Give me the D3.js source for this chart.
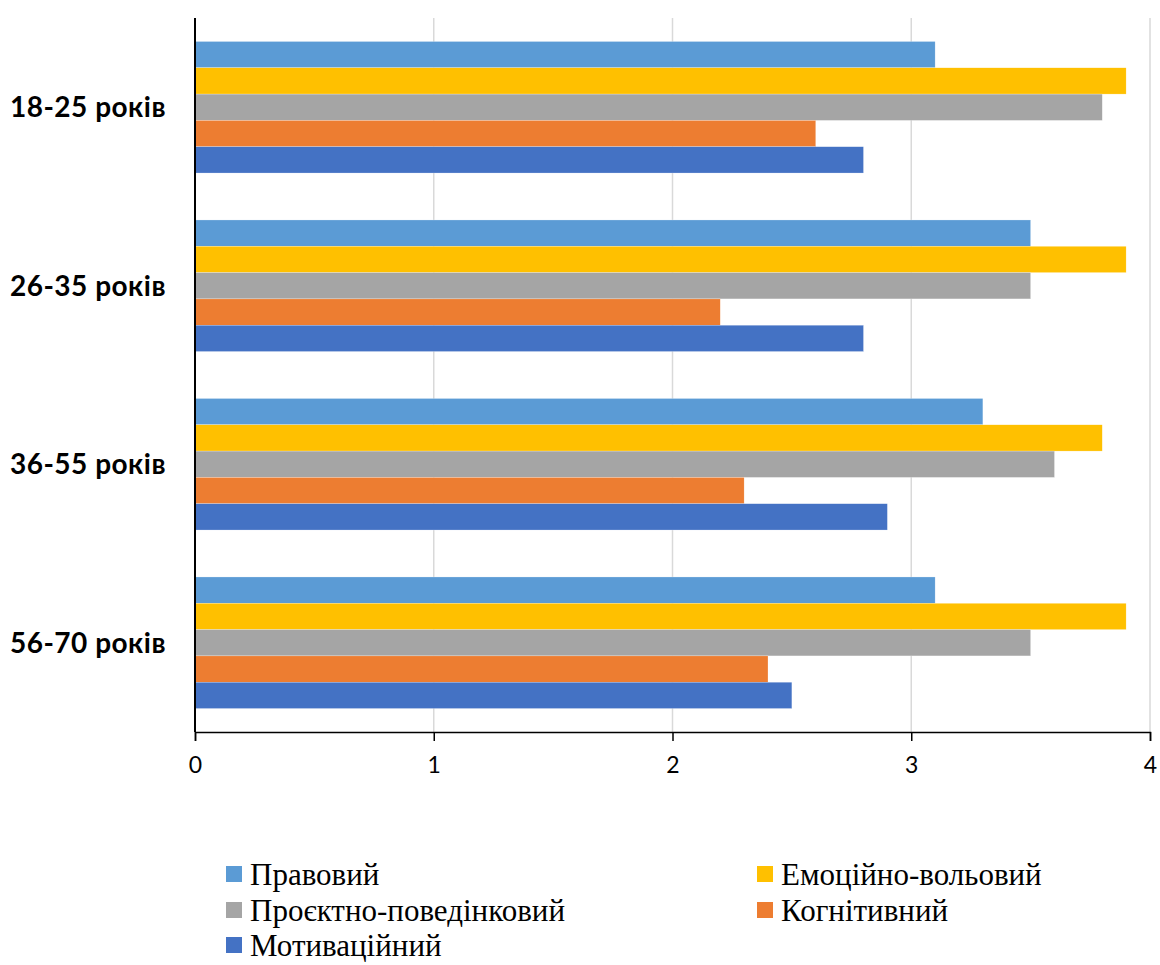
<!DOCTYPE html>
<html>
<head>
<meta charset="utf-8">
<script src="https://cdn.jsdelivr.net/npm/d3@7"></script>
<style>
  html, body { margin: 0; padding: 0; background: #fff; }
  svg { display: block; }
</style>
</head>
<body>
<svg id="chart" width="1160" height="965"></svg>
<script>
// Age groups shown on the vertical axis
const ageGroups = ["18-25 років", "26-35 років", "36-55 років", "56-70 років"];

// Components of the index, in the order they appear inside each group
const seriesNames = ["Правовий", "Емоційно-вольовий", "Проєктно-поведінковий", "Когнітивний", "Мотиваційний"];
const seriesColors = ["#5B9BD5", "#FFC000", "#A5A5A5", "#ED7D31", "#4472C4"];

// Scores per series, one value per age group
const pravovyi      = [3.1, 3.5, 3.3, 3.1];
const emotsiinyi    = [3.9, 3.9, 3.8, 3.9];
const proektnyi     = [3.8, 3.5, 3.6, 3.5];
const kognityvnyi   = [2.6, 2.2, 2.3, 2.4];
const motyvatsiinyi = [2.8, 2.8, 2.9, 2.5];

const xTicks = [0, 1, 2, 3, 4];

const seriesValues = [pravovyi, emotsiinyi, proektnyi, kognityvnyi, motyvatsiinyi];

const svg = d3.select("#chart");
const plot = { left: 195, right: 1150, top: 18, bottom: 732 };

const x = d3.scaleLinear().domain([0, 4]).range([plot.left, plot.right]);
const y0 = d3.scaleBand().domain(ageGroups).range([plot.top, plot.bottom])
  .paddingInner(0.263).paddingOuter(0.1315);
const y1 = d3.scaleBand().domain(seriesNames).range([0, y0.bandwidth()]).padding(0);

// Vertical gridlines
svg.append("g")
  .selectAll("line")
  .data(xTicks.filter(t => t > 0))
  .join("line")
  .attr("x1", d => x(d)).attr("x2", d => x(d))
  .attr("y1", plot.top).attr("y2", plot.bottom)
  .attr("stroke", "#d9d9d9").attr("stroke-width", 1.5);

// Bars
const groups = svg.append("g")
  .selectAll("g")
  .data(ageGroups)
  .join("g")
  .attr("transform", d => `translate(0,${y0(d)})`);

groups.selectAll("rect")
  .data((g, gi) => seriesNames.map((s, si) => ({ s, si, v: seriesValues[si][gi] })))
  .join("rect")
  .attr("x", x(0))
  .attr("y", d => y1(d.s))
  .attr("width", d => x(d.v) - x(0))
  .attr("height", y1.bandwidth())
  .attr("fill", d => seriesColors[d.si])
  .attr("stroke", "#ffffff").attr("stroke-width", 0.4).attr("stroke-opacity", 0.6);

// Bottom value axis
const xAxis = svg.append("g")
  .attr("transform", `translate(0,${plot.bottom})`)
  .call(d3.axisBottom(x).tickValues(xTicks).tickSize(9).tickPadding(16).tickFormat(d3.format("d")));
xAxis.select(".domain").attr("stroke", "#000").attr("stroke-width", 1.5);
xAxis.selectAll(".tick line").attr("stroke", "#000").attr("stroke-width", 1.5);
xAxis.selectAll(".tick text")
  .attr("font-family", "Lato, 'Open Sans', sans-serif")
  .attr("font-size", 23).attr("fill", "#000");

// Left category axis
svg.append("line")
  .attr("x1", plot.left).attr("x2", plot.left)
  .attr("y1", plot.top).attr("y2", plot.bottom)
  .attr("stroke", "#000").attr("stroke-width", 2);

svg.append("g")
  .selectAll("text")
  .data(ageGroups)
  .join("text")
  .attr("x", 166)
  .attr("y", d => y0(d) + y0.bandwidth() / 2)
  .attr("dy", "0.36em")
  .attr("text-anchor", "end")
  .attr("font-family", "Lato, 'Open Sans', sans-serif")
  .attr("font-weight", "bold")
  .attr("font-size", 28)
  .attr("letter-spacing", 0.5)
  .attr("fill", "#000")
  .text(d => d);

// Legend: two columns, filled row by row
const legendCols = [226, 757];
const legendRows = [874, 910, 945];
const legend = svg.append("g")
  .selectAll("g")
  .data(seriesNames)
  .join("g")
  .attr("transform", (d, i) => `translate(${legendCols[i % 2]},${legendRows[Math.floor(i / 2)]})`);

legend.append("rect")
  .attr("x", 0).attr("y", -8).attr("width", 16).attr("height", 16)
  .attr("fill", (d, i) => seriesColors[i]);

legend.append("text")
  .attr("x", 24).attr("y", 0).attr("dy", "0.34em")
  .attr("font-family", "'Liberation Serif', 'Times New Roman', serif")
  .attr("font-size", 31)
  .attr("fill", "#000")
  .text(d => d);
</script>
</body>
</html>
